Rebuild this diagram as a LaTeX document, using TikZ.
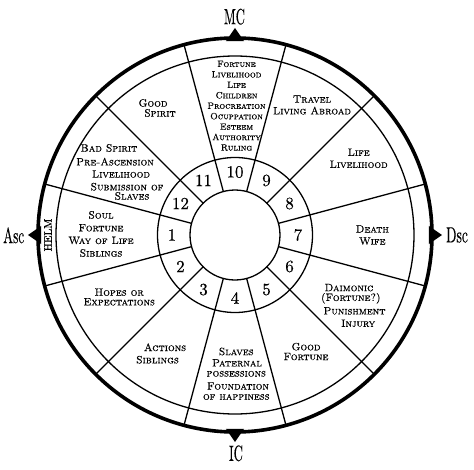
\documentclass[tikz,border=0pt]{standalone}
\usepackage{fontspec}
\usepackage{graphicx}
\newfontfamily\lblfont{lmroman10-regular.otf}[SmallCapsFont=lmromancaps10-regular.otf, FakeBold=0.45, SmallCapsFeatures={FakeBold=0.45}]
\newfontfamily\numfont{lmroman10-regular.otf}[FakeBold=0.35]
\begin{document}
\begin{tikzpicture}[x=1pt,y=1pt,
  thinline/.style={line width=1.3pt},
  thickline/.style={line width=3.6pt},
  lbl/.style={inner sep=0pt, align=center, font=\lblfont\fontsize{10.6}{12.5}\selectfont\scshape},
  num/.style={inner sep=0pt, font=\numfont\fontsize{17}{17}\selectfont},
  card/.style={inner sep=0pt, font=\numfont\fontsize{22}{22}\selectfont},
  marker/.style={fill=black}
]
\useasboundingbox (-235,-234) rectangle (239,235);
\coordinate (O) at (0,0);
% rings
\draw[thinline] (O) circle (45);
\draw[thinline] (O) circle (77.5);
\draw[thinline] (O) circle (179);
\draw[thickline] (O) circle (197);
% cusps
\foreach \a in {15,45,...,345} \draw[thinline] (\a:45) -- (\a:197);
% angle markers
\foreach \a in {0,90,180,270} \fill[marker] (\a+2.7:194) -- (\a:207) -- (\a-2.7:194) -- cycle;
% house numbers
\foreach \k in {1,...,12} \node[num] (n\k) at ({180+30*(\k-1)}:63) {\k};
% angles
\node[card] (mc)  at (-0.5,218.3) {\scalebox{0.58}[1]{MC}};
\node[card] (asc) at (-221.3,-0.3) {\scalebox{0.6}[1]{Asc}};
\node[card] (dsc) at (222,0) {\scalebox{0.62}[1]{Dsc}};
\node[card] (ic)  at (1,-218.3) {\scalebox{0.58}[1]{IC}};
\node[inner sep=0pt, rotate=90, font=\lblfont\fontsize{11}{11}\selectfont] (helm) at (-187,0) {HELM};
% house 1
\node[lbl, font=\lblfont\fontsize{10.6}{12.7}\selectfont\scshape] (h1) at (-134,1) {Soul\\Fortune\\Way of Life\\Siblings};
% house 2
\node[lbl, font=\lblfont\fontsize{10.6}{9.6}\selectfont\scshape] (h2) at (-115.8,-62) {Hopes or\\Expectations};
% house 3
\node[lbl] (h3a) at (-70,-112.3) {Actions};
\node[lbl] (h3b) at (-77.5,-124.7) {Siblings};
% house 4
\node[lbl] (h4a) at (1.2,-116.5) {Slaves};
\node[lbl] (h4b) at (2,-127.9) {Paternal};
\node[lbl] (h4c) at (1.3,-138.8) {possessions};
\node[lbl] (h4d) at (3,-151) {Foundation};
\node[lbl] (h4e) at (1.3,-162) {of happiness};
% house 5
\node[lbl, font=\lblfont\fontsize{10.6}{9.8}\selectfont\scshape] (h5) at (71,-116.5) {Good\\Fortune};
% house 6
\node[lbl] (h6a) at (114,-52.6) {Daimonic};
\node[lbl] (h6b) at (115.8,-63.3) {(Fortune?)};
\node[lbl] (h6c) at (119.5,-75.9) {Punishment};
\node[lbl] (h6d) at (123.2,-88.3) {Injury};
% house 7
\node[lbl, font=\lblfont\fontsize{10.6}{12}\selectfont\scshape] (h7) at (137.3,0) {Death\\Wife};
% house 8
\node[lbl, font=\lblfont\fontsize{10.6}{12}\selectfont\scshape] (h8) at (123.7,76.7) {Life\\Livelihood};
% house 9
\node[lbl, font=\lblfont\fontsize{10.6}{11.7}\selectfont\scshape] (h9) at (77,130) {Travel\\Living Abroad};
% house 10
\node[lbl, font=\lblfont\fontsize{9.1}{10.46}\selectfont\scshape] (h10) at (1.5,129.2) {Fortune\\Livelihood\\Life\\Children\\Procreation\\Ocuppation\\Esteem\\Authority\\Ruling};
% house 11
\node[lbl] (h11a) at (-82,132) {Good};
\node[lbl] (h11b) at (-75,122) {Spirit};
% house 12
\node[lbl] (h12a) at (-126,87) {Bad Spirit};
\node[lbl] (h12b) at (-120,73.3) {Pre-Ascension};
\node[lbl] (h12c) at (-114,61) {Livelihood};
\node[lbl] (h12d) at (-108,48.3) {Submission of};
\node[lbl] (h12e) at (-103,39) {Slaves};
\end{tikzpicture}
\end{document}
